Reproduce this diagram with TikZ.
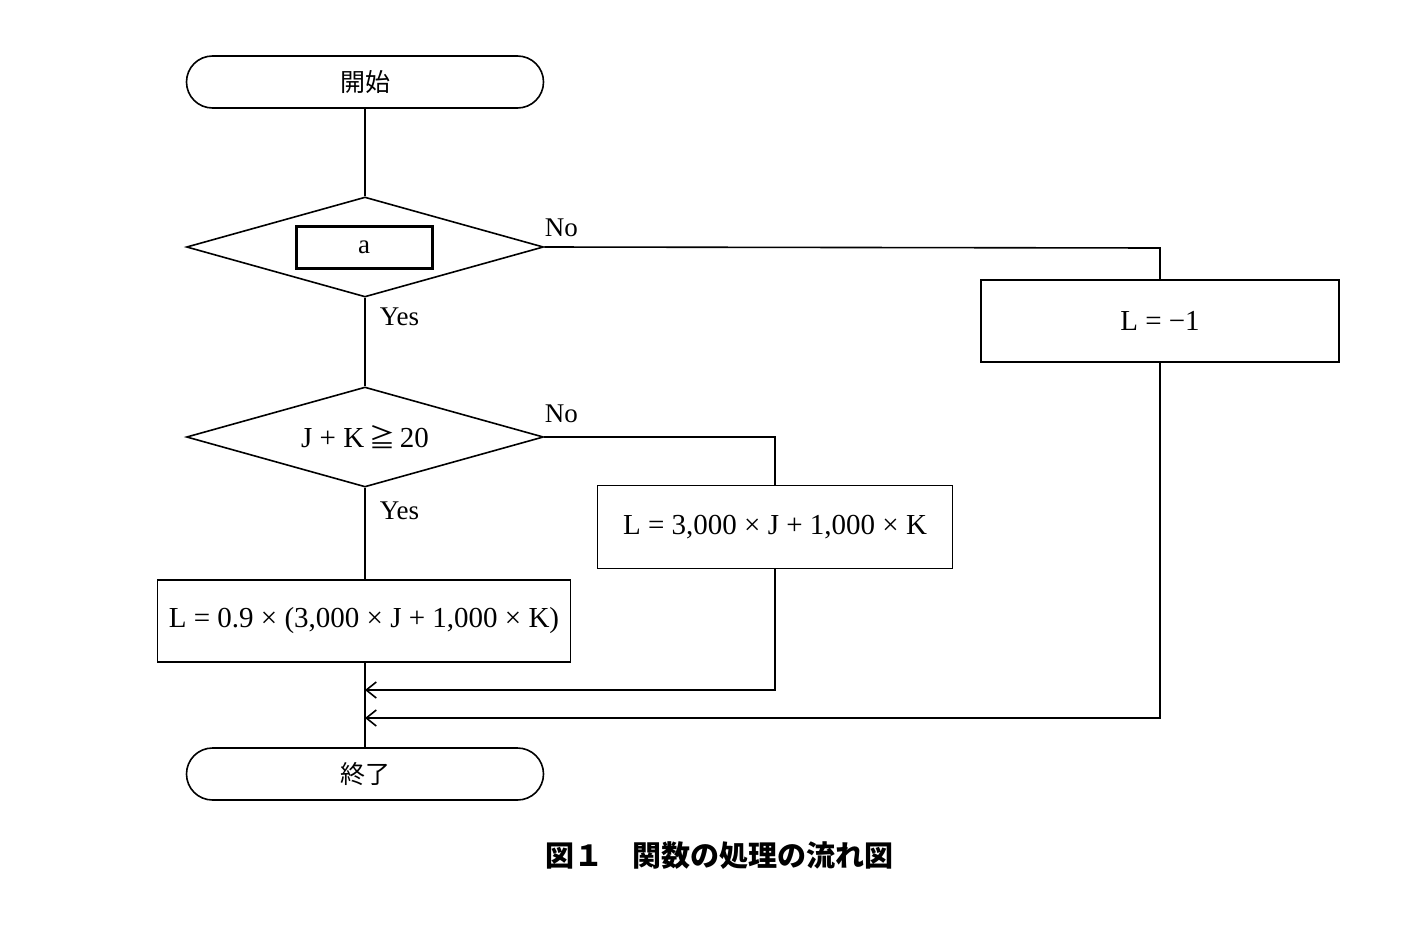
\documentclass[tikz,border=0pt]{standalone}
\usepackage{fontspec}
\setmainfont{Liberation Serif}
\newfontfamily\cjk{Noto Sans CJK JP}
\usetikzlibrary{shapes.geometric,shapes.misc,arrows.meta}
\begin{document}
\begin{tikzpicture}[x=1pt,y=-1pt,line width=1.6pt,
  every node/.style={font=\fontsize{29}{34}\selectfont},
  term/.style={draw,rounded rectangle,minimum width=357pt,minimum height=52pt,inner sep=0pt,font=\cjk\fontsize{25}{30}\selectfont},
  dec/.style={draw,diamond,aspect=3.57,minimum width=357pt,minimum height=100pt,inner sep=0pt},
  proc/.style={draw,rectangle,inner sep=0pt},
  lbl/.style={inner sep=0pt,font=\fontsize{27}{32}\selectfont},
  arr/.style={-{Straight Barb[length=10pt,width=16pt]}}]
\useasboundingbox (0,0) rectangle (1415,947);
\node[term] (s) at (365,82) {開始};
\node[dec] (d1) at (365,247) {};
\node[draw,line width=3pt,minimum width=136pt,minimum height=42pt,inner sep=0pt,font=\fontsize{27}{32}\selectfont] (a) at (364,247) {a};
\node[dec] (d2) at (365,437) {J + K\,{\cjk\fontsize{26}{30}\selectfont ≧}\,20};
\node[proc,minimum width=358pt,minimum height=82pt] (p1) at (1160,321) {L = −1};
\node[proc,minimum width=355pt,minimum height=83pt] (p2) at (775,527) {L = 3,000 × J + 1,000 × K};
\node[proc,minimum width=413pt,minimum height=82pt] (p3) at (364,621) {L = 0.9 × (3,000 × J + 1,000 × K)};
\node[term] (e) at (365,774) {終了};
\coordinate (m1) at (365,690);
\coordinate (m2) at (365,718);
\draw (s) -- (d1);
\draw (d1) -- (d2);
\draw (d2.south) -- (p3.north -| d2.south);
\draw (p3.south -| e.north) -- (e);
\draw (d1.east) -- (1160,248) -- (p1.north);
\draw (d2.east) -- (775,437) -- (p2.north);
\draw[arr] (p2.south) -- (775,690) -- (m1);
\draw[arr] (p1.south) -- (1160,718) -- (m2);
\node[lbl,anchor=west] at (544,228) {No};
\node[lbl,anchor=west] at (544,414) {No};
\node[lbl,anchor=west] at (379,317) {Yes};
\node[lbl,anchor=west] at (379,511) {Yes};
\node[lbl,font=\cjk\bfseries\fontsize{29}{34}\selectfont] (cap) at (719,856) {図１　関数の処理の流れ図};
\end{tikzpicture}
\end{document}
